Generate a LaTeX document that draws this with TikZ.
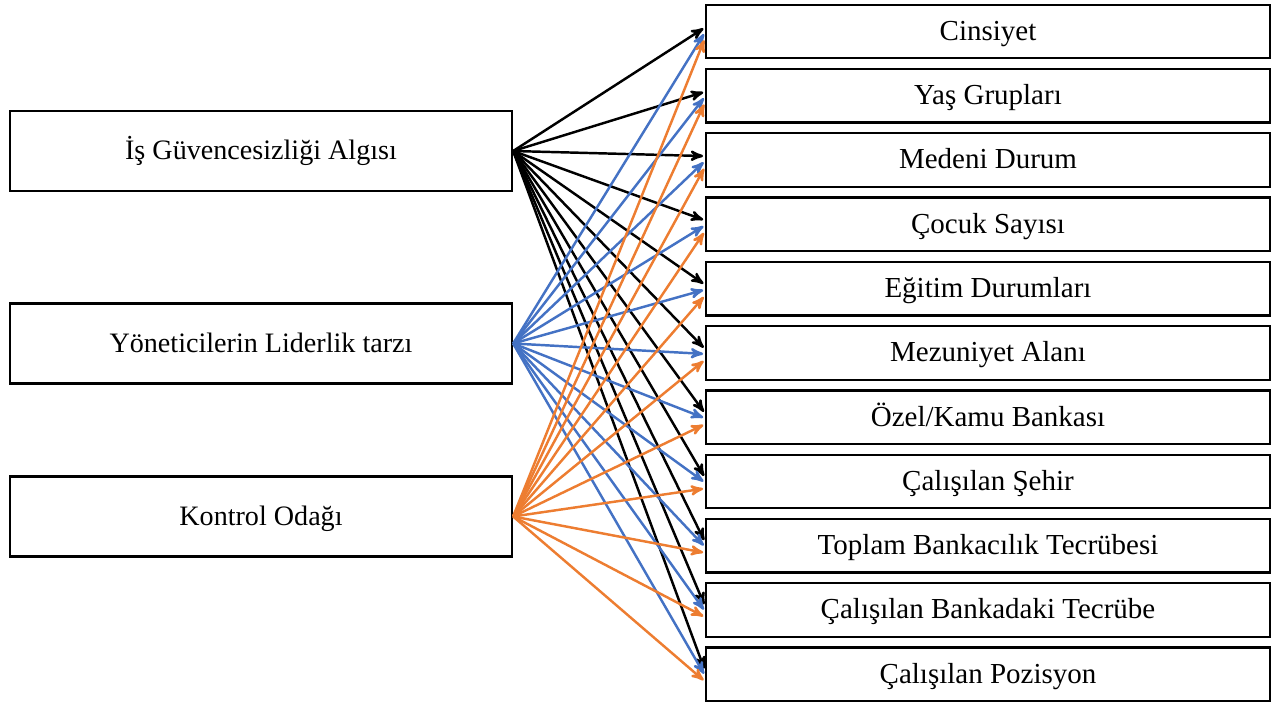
\documentclass[tikz,border=0pt]{standalone}
\usepackage{fontspec}
\setmainfont{Liberation Serif}
\usetikzlibrary{calc}
\usetikzlibrary{arrows,positioning}
\definecolor{blau}{RGB}{68,114,196}
\definecolor{orange}{RGB}{237,125,49}
\tikzset{
    %Standard-Pfeilspitze
    >=stealth',
    %Kasten links
    links/.style={
           rectangle,
           draw=black, line width=1.3pt,
           minimum width=10.04cm,
           minimum height=1.6cm,
           text height=11pt, text depth=1pt,
           font=\fontsize{16}{19}\selectfont},
    %Kasten rechts
    rechts/.style={
           rectangle,
           draw=black, line width=1.3pt,
           minimum width=11.28cm,
           minimum height=1.07cm,
           text height=11pt, text depth=1pt,
           font=\fontsize{16.5}{19}\selectfont},
    % Pfeil
    pil/.style={
           ->,
           line width=1.4pt,
           shorten >=1pt},
}

\begin{document}
\begin{tikzpicture}
\useasboundingbox (0,0) rectangle (25.54,-14.16);
\newcommand{\abstand}{0.17cm}

% Linke Kaesten
\node[links] (guven) at (5.22,-3.02) {İş Güvencesizliği Algısı};
\node[links] (lider) at (5.22,-6.87) {Yöneticilerin Liderlik tarzı};
\node[links] (kontrol) at (5.22,-10.33) {Kontrol Odağı};

% Rechte Kaesten
\node[rechts] (cinsiyet) at (19.76,-0.63) {Cinsiyet};
\node[rechts, below=\abstand of cinsiyet] (yas) {Yaş Grupları};
\node[rechts, below=\abstand of yas] (medeni) {Medeni Durum};
\node[rechts, below=\abstand of medeni] (cocuk) {Çocuk Sayısı};
\node[rechts, below=\abstand of cocuk] (egitim) {Eğitim Durumları};
\node[rechts, below=\abstand of egitim] (mezuniyet) {Mezuniyet Alanı};
\node[rechts, below=\abstand of mezuniyet] (banka) {Özel/Kamu Bankası};
\node[rechts, below=\abstand of banka] (sehir) {Çalışılan Şehir};
\node[rechts, below=\abstand of sehir] (toplam) {Toplam Bankacılık Tecrübesi};
\node[rechts, below=\abstand of toplam] (bankadaki) {Çalışılan Bankadaki Tecrübe};
\node[rechts, below=\abstand of bankadaki] (pozisyon) {Çalışılan Pozisyon};

% Pfeile
\foreach \ziel in {cinsiyet,yas,medeni,cocuk,egitim,mezuniyet,banka,sehir,toplam,bankadaki,pozisyon}{
  \draw[pil,black] (guven.east) -- ($(\ziel.west)+(0,0.08)$);
}
\foreach \ziel in {cinsiyet,yas,medeni,cocuk,egitim,mezuniyet,banka,sehir,toplam,bankadaki,pozisyon}{
  \draw[pil,blau] (lider.east) -- ($(\ziel.west)+(0,-0.02)$);
}
\foreach \ziel in {cinsiyet,yas,medeni,cocuk,egitim,mezuniyet,banka,sehir,toplam,bankadaki,pozisyon}{
  \draw[pil,orange] (kontrol.east) -- ($(\ziel.west)+(0,-0.14)$);
}
\end{tikzpicture}
\end{document}
